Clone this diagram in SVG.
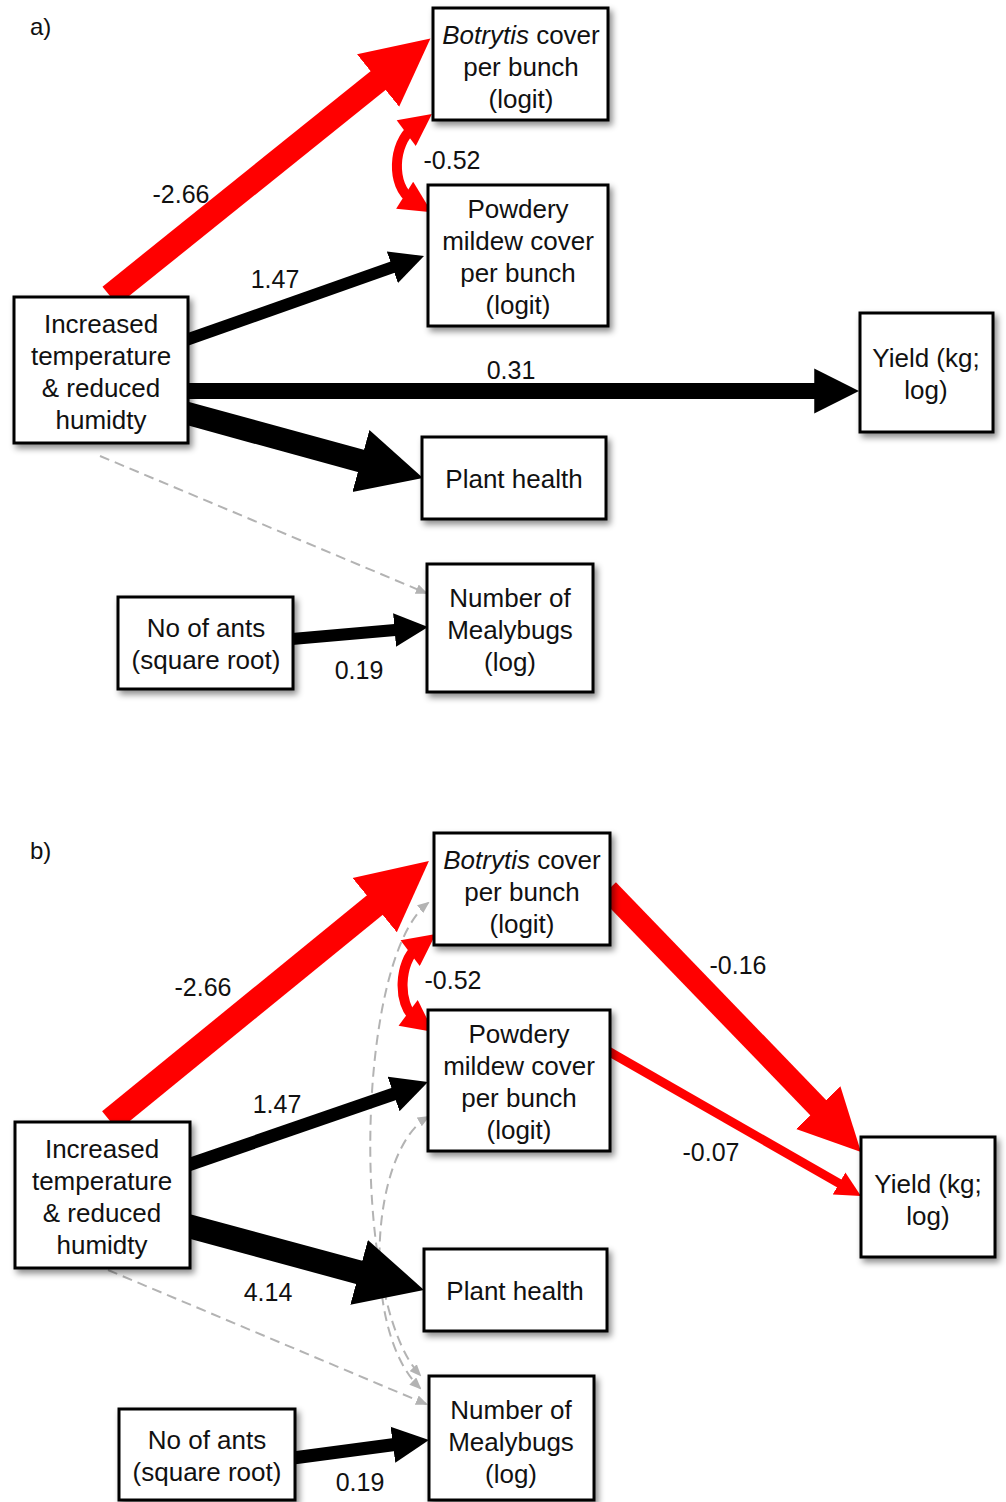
<svg xmlns="http://www.w3.org/2000/svg" width="1006" height="1502" viewBox="0 0 1006 1502">
<style>
  .box{fill:#fff;stroke:#000;stroke-width:3;filter:url(#sh)}
  text{font-family:"Liberation Sans",Arial,Helvetica,sans-serif;fill:#111}
  .nt{font-size:26px;text-anchor:middle}
  .lb{font-size:25px;text-anchor:middle}
  .k{stroke:#000;fill:none;marker-end:url(#hk)}
  .r{stroke:#f00;fill:none;marker-end:url(#hr)}
  .rr{stroke:#f00;fill:none;marker-start:url(#hr2);marker-end:url(#hr2)}
  .g{stroke:#b3b3b3;stroke-width:2;stroke-dasharray:10 6;fill:none;marker-end:url(#hg)}
  .gg{stroke:#b3b3b3;stroke-width:2;stroke-dasharray:10 6;fill:none;marker-start:url(#hg2);marker-end:url(#hg2)}
</style>
<defs>
  <filter id="sh" x="-20%" y="-20%" width="150%" height="150%">
    <feDropShadow dx="3" dy="4" stdDeviation="3" flood-color="#000" flood-opacity="0.45"/>
  </filter>
  <marker id="hk" viewBox="0 0 10 10" refX="1" refY="5" markerWidth="2.8" markerHeight="2.9" orient="auto" markerUnits="strokeWidth">
    <path d="M0,0 L10,5 L0,10 z" fill="#000"/>
  </marker>
  <marker id="hr" viewBox="0 0 10 10" refX="1" refY="5" markerWidth="2.8" markerHeight="2.9" orient="auto" markerUnits="strokeWidth">
    <path d="M0,0 L10,5 L0,10 z" fill="#f00"/>
  </marker>
  <marker id="hr2" viewBox="0 0 10 10" refX="2.6" refY="5" markerWidth="3.4" markerHeight="3.2" orient="auto-start-reverse" markerUnits="strokeWidth">
    <path d="M0,0 L10,5 L0,10 z" fill="#f00"/>
  </marker>
  <marker id="hg" viewBox="0 0 12 10" refX="10" refY="5" markerWidth="12" markerHeight="10" orient="auto" markerUnits="userSpaceOnUse">
    <path d="M0,0 L12,5 L0,10 z" fill="#b3b3b3"/>
  </marker>
  <marker id="hg2" viewBox="0 0 12 10" refX="10" refY="5" markerWidth="12" markerHeight="10" orient="auto-start-reverse" markerUnits="userSpaceOnUse">
    <path d="M0,0 L12,5 L0,10 z" fill="#b3b3b3"/>
  </marker>
</defs>

<rect width="1006" height="1502" fill="#fff"/>

<g id="connectors">
  <!-- panel a -->
  <line class="r" x1="110" y1="296" x2="383.3" y2="76.3" stroke-width="24"/>
  <path class="rr" d="M412.9,128.2 C393,143 390.6,186.3 411.7,199.6" stroke-width="10"/>
  <line class="k" x1="186" y1="340" x2="395.5" y2="266.1" stroke-width="12"/>
  <line class="k" x1="186" y1="391" x2="818.7" y2="391" stroke-width="16"/>
  <line class="k" x1="186" y1="413" x2="367.1" y2="462.7" stroke-width="23"/>
  <line class="k" x1="292" y1="639" x2="397.9" y2="629.7" stroke-width="12"/>
  <line class="g" x1="100" y1="456" x2="426" y2="593"/>
  <!-- panel b -->
  <path class="gg" d="M428,903 C355,960 350,1300 420,1375"/>
  <path class="gg" d="M428,1117 C370,1150 360,1330 420,1388"/>
  <line class="r" x1="110" y1="1121" x2="380.1" y2="900.7" stroke-width="25"/>
  <path class="rr" d="M416.8,948.1 C399.2,961.3 397.2,1004.7 414.8,1017.9" stroke-width="10"/>
  <line class="k" x1="188" y1="1165" x2="397" y2="1092.8" stroke-width="13"/>
  <line class="k" x1="188" y1="1226" x2="365.6" y2="1274.1" stroke-width="24"/>
  <line class="k" x1="293" y1="1458" x2="396.5" y2="1444.3" stroke-width="13"/>
  <line class="r" x1="608" y1="890" x2="822.5" y2="1112.1" stroke-width="22"/>
  <line class="r" x1="608" y1="1051" x2="841.3" y2="1184.7" stroke-width="9"/>
  <line class="g" x1="108" y1="1270" x2="426" y2="1404"/>
</g>

<g id="labels">
  <text x="30" y="35" font-size="24px">a)</text>
  <text x="30" y="859" font-size="24px">b)</text>
  <text class="lb" x="181" y="203">-2.66</text>
  <text class="lb" x="275" y="288">1.47</text>
  <text class="lb" x="452" y="169">-0.52</text>
  <text class="lb" x="511" y="379">0.31</text>
  <text class="lb" x="359" y="679">0.19</text>
  <text class="lb" x="203" y="996">-2.66</text>
  <text class="lb" x="277" y="1113">1.47</text>
  <text class="lb" x="453" y="989">-0.52</text>
  <text class="lb" x="738" y="974">-0.16</text>
  <text class="lb" x="711" y="1161">-0.07</text>
  <text class="lb" x="268" y="1301">4.14</text>
  <text class="lb" x="360" y="1491">0.19</text>
</g>

<!-- panel a nodes -->
<g id="a-botrytis">
  <rect class="box" x="433" y="8" width="175" height="112"/>
  <text class="nt" x="521" y="44"><tspan font-style="italic">Botrytis</tspan> cover</text>
  <text class="nt" x="521" y="76">per bunch</text>
  <text class="nt" x="521" y="108">(logit)</text>
</g>
<g id="a-powdery">
  <rect class="box" x="428" y="185" width="180" height="141"/>
  <text class="nt" x="518" y="218">Powdery</text>
  <text class="nt" x="518" y="250">mildew cover</text>
  <text class="nt" x="518" y="282">per bunch</text>
  <text class="nt" x="518" y="314">(logit)</text>
</g>
<g id="a-temp">
  <rect class="box" x="14" y="297" width="174" height="146"/>
  <text class="nt" x="101" y="333">Increased</text>
  <text class="nt" x="101" y="365">temperature</text>
  <text class="nt" x="101" y="397">&amp; reduced</text>
  <text class="nt" x="101" y="429">humidty</text>
</g>
<g id="a-yield">
  <rect class="box" x="860" y="313" width="133" height="119"/>
  <text class="nt" x="926" y="367">Yield (kg;</text>
  <text class="nt" x="926" y="399">log)</text>
</g>
<g id="a-plant">
  <rect class="box" x="422" y="437" width="184" height="82"/>
  <text class="nt" x="514" y="488">Plant health</text>
</g>
<g id="a-mealybugs">
  <rect class="box" x="427" y="564" width="166" height="128"/>
  <text class="nt" x="510" y="607">Number of</text>
  <text class="nt" x="510" y="639">Mealybugs</text>
  <text class="nt" x="510" y="671">(log)</text>
</g>
<g id="a-ants">
  <rect class="box" x="118" y="597" width="175" height="92"/>
  <text class="nt" x="206" y="637">No of ants</text>
  <text class="nt" x="206" y="669">(square root)</text>
</g>

<!-- panel b nodes -->
<g id="b-botrytis">
  <rect class="box" x="434" y="833" width="176" height="112"/>
  <text class="nt" x="522" y="869"><tspan font-style="italic">Botrytis</tspan> cover</text>
  <text class="nt" x="522" y="901">per bunch</text>
  <text class="nt" x="522" y="933">(logit)</text>
</g>
<g id="b-powdery">
  <rect class="box" x="428" y="1010" width="182" height="141"/>
  <text class="nt" x="519" y="1043">Powdery</text>
  <text class="nt" x="519" y="1075">mildew cover</text>
  <text class="nt" x="519" y="1107">per bunch</text>
  <text class="nt" x="519" y="1139">(logit)</text>
</g>
<g id="b-temp">
  <rect class="box" x="15" y="1122" width="175" height="146"/>
  <text class="nt" x="102" y="1158">Increased</text>
  <text class="nt" x="102" y="1190">temperature</text>
  <text class="nt" x="102" y="1222">&amp; reduced</text>
  <text class="nt" x="102" y="1254">humidty</text>
</g>
<g id="b-yield">
  <rect class="box" x="861" y="1137" width="134" height="120"/>
  <text class="nt" x="928" y="1193">Yield (kg;</text>
  <text class="nt" x="928" y="1225">log)</text>
</g>
<g id="b-plant">
  <rect class="box" x="424" y="1249" width="183" height="82"/>
  <text class="nt" x="515" y="1300">Plant health</text>
</g>
<g id="b-mealybugs">
  <rect class="box" x="429" y="1376" width="165" height="124"/>
  <text class="nt" x="511" y="1419">Number of</text>
  <text class="nt" x="511" y="1451">Mealybugs</text>
  <text class="nt" x="511" y="1483">(log)</text>
</g>
<g id="b-ants">
  <rect class="box" x="119" y="1409" width="176" height="91"/>
  <text class="nt" x="207" y="1449">No of ants</text>
  <text class="nt" x="207" y="1481">(square root)</text>
</g>
</svg>
